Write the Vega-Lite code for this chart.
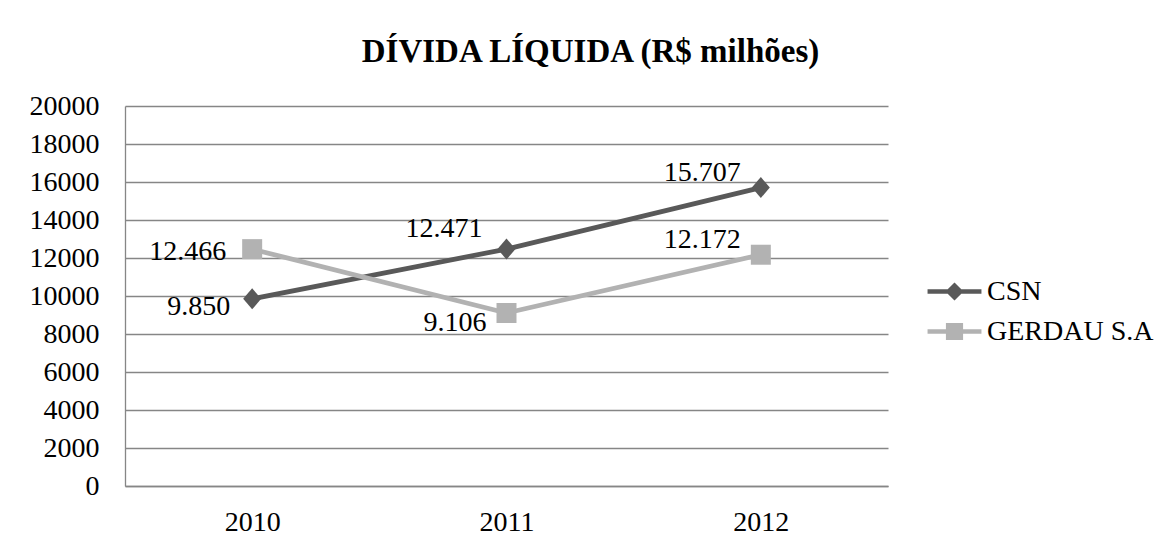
{
  "$schema": "https://vega.github.io/schema/vega-lite/v6.json",
  "width": 763,
  "height": 380,
  "autosize": {"type": "none"},
  "padding": {"left": 125, "top": 106, "right": 287, "bottom": 61},
  "background": "white",
  "title": {
    "text": "DÍVIDA LÍQUIDA (R$ milhões)",
    "font": "Liberation Serif",
    "fontSize": 33,
    "fontWeight": "bold",
    "color": "black",
    "anchor": "middle",
    "baseline": "alphabetic",
    "dx": 84,
    "offset": -3
  },
  "config": {
    "locale": {
      "number": {"decimal": ",", "thousands": ".", "grouping": [3], "currency": ["R$ ", ""]}
    },
    "view": {"stroke": null}
  },
  "data": {
    "values": [
      {"year": "2010", "company": "CSN", "value": 9850},
      {"year": "2011", "company": "CSN", "value": 12471},
      {"year": "2012", "company": "CSN", "value": 15707},
      {"year": "2010", "company": "GERDAU S.A", "value": 12466},
      {"year": "2011", "company": "GERDAU S.A", "value": 9106},
      {"year": "2012", "company": "GERDAU S.A", "value": 12172}
    ]
  },
  "encoding": {
    "x": {
      "field": "year",
      "type": "ordinal",
      "scale": {"type": "point", "padding": 0.5},
      "axis": {
        "title": null,
        "labelFont": "Liberation Serif",
        "labelFontSize": 28,
        "labelColor": "black",
        "labelAngle": 0,
        "ticks": false,
        "labelPadding": 22,
        "domain": true,
        "domainColor": "#868686",
        "domainWidth": 1.3,
        "grid": false
      }
    },
    "y": {
      "field": "value",
      "type": "quantitative",
      "scale": {"domain": [0, 20000], "nice": false},
      "axis": {
        "title": null,
        "values": [0, 2000, 4000, 6000, 8000, 10000, 12000, 14000, 16000, 18000, 20000],
        "format": "d",
        "labelFont": "Liberation Serif",
        "labelFontSize": 28,
        "labelColor": "black",
        "ticks": false,
        "labelPadding": 26,
        "grid": true,
        "gridColor": "#868686",
        "gridWidth": 1.3,
        "domain": true,
        "domainColor": "#868686",
        "domainWidth": 1.3
      }
    }
  },
  "layer": [
    {
      "mark": {"type": "line", "strokeWidth": 4.8, "strokeCap": "round", "strokeJoin": "round"},
      "encoding": {
        "color": {
          "field": "company",
          "type": "nominal",
          "scale": {"domain": ["CSN", "GERDAU S.A"], "range": ["#595959", "#b2b2b2"]},
          "legend": {
            "orient": "none",
            "legendX": 805,
            "legendY": 161,
            "title": null,
            "labelFont": "Liberation Serif",
            "labelFontSize": 28,
            "labelColor": "black",
            "symbolSize": 2401,
            "labelOffset": 8,
            "rowPadding": 1,
            "padding": 0,
            "labelLimit": 400,
            "encode": {
              "symbols": {
                "update": {
                  "shape": {"signal": "datum.value === 'CSN' ? 'M-1.1,-0.09H1.1V0.09H-1.1Z M0,-0.37L0.37,0L0,0.37L-0.37,0Z' : 'M-1.1,-0.09H1.1V0.09H-1.1Z M-0.35,-0.35H0.35V0.35H-0.35Z'"},
                  "fill": {"signal": "datum.value === 'CSN' ? '#595959' : '#b2b2b2'"},
                  "stroke": {"value": "transparent"},
                  "strokeWidth": {"value": 0},
                  "opacity": {"value": 1}
                }
              }
            }
          }
        }
      }
    },
    {
      "transform": [{"filter": "datum.company === 'CSN'"}],
      "mark": {"type": "point", "filled": true, "opacity": 1, "size": 400, "strokeWidth": 0, "color": "#595959", "shape": "M0,-1.05L0.9,0L0,1.05L-0.9,0Z"}
    },
    {
      "transform": [{"filter": "datum.company === 'GERDAU S.A'"}],
      "mark": {"type": "point", "filled": true, "opacity": 1, "size": 400, "strokeWidth": 0, "color": "#b2b2b2", "shape": "M-1,-1H1V1H-1Z"}
    },
    {
      "transform": [{"filter": "datum.company === 'CSN' && datum.year === '2010'"}],
      "mark": {"type": "text", "align": "right", "baseline": "middle", "dx": -22, "dy": 8, "font": "Liberation Serif", "fontSize": 28, "color": "black"},
      "encoding": {"text": {"field": "value", "type": "quantitative", "format": ",d"}}
    },
    {
      "transform": [{"filter": "datum.company === 'GERDAU S.A' && datum.year === '2010'"}],
      "mark": {"type": "text", "align": "right", "baseline": "middle", "dx": -26, "dy": 3, "font": "Liberation Serif", "fontSize": 28, "color": "black"},
      "encoding": {"text": {"field": "value", "type": "quantitative", "format": ",d"}}
    },
    {
      "transform": [{"filter": "datum.company === 'CSN' && datum.year === '2011'"}],
      "mark": {"type": "text", "align": "right", "baseline": "middle", "dx": -24, "dy": -20, "font": "Liberation Serif", "fontSize": 28, "color": "black"},
      "encoding": {"text": {"field": "value", "type": "quantitative", "format": ",d"}}
    },
    {
      "transform": [{"filter": "datum.company === 'GERDAU S.A' && datum.year === '2011'"}],
      "mark": {"type": "text", "align": "right", "baseline": "middle", "dx": -20, "dy": 10, "font": "Liberation Serif", "fontSize": 28, "color": "black"},
      "encoding": {"text": {"field": "value", "type": "quantitative", "format": ",d"}}
    },
    {
      "transform": [{"filter": "datum.year === '2012'"}],
      "mark": {"type": "text", "align": "right", "baseline": "middle", "dx": -20, "dy": -15, "font": "Liberation Serif", "fontSize": 28, "color": "black"},
      "encoding": {"text": {"field": "value", "type": "quantitative", "format": ",d"}}
    }
  ]
}
